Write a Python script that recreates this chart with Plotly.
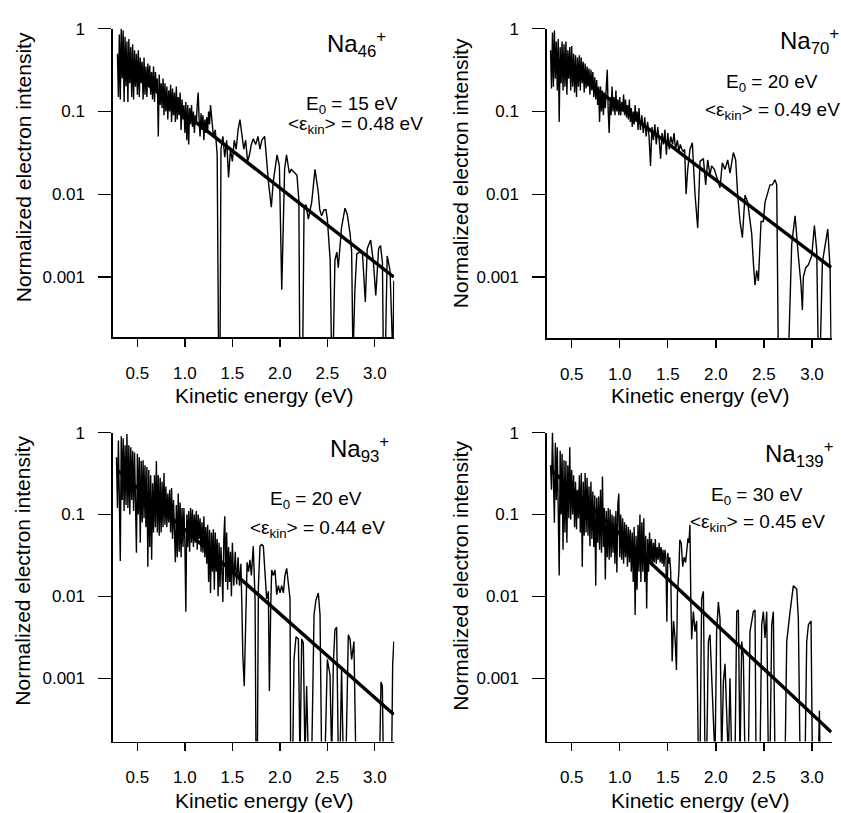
import plotly.graph_objects as go

W, H = 841, 813
FONT = "Liberation Sans, Arial, Helvetica, sans-serif"

# ---------------- data: (kinetic energy eV, normalized intensity) ----------------
na46_spectrum = [
    (0.29,0.50),(0.30,0.15),(0.31,0.85),(0.32,0.14),(0.33,1.0),(0.34,0.25),(0.35,0.95),(0.36,0.13),(0.37,0.80),(0.38,0.20),
    (0.39,0.70),(0.40,0.13),(0.41,0.75),(0.42,0.22),(0.43,0.60),(0.44,0.15),(0.45,0.65),(0.46,0.14),(0.47,0.55),(0.48,0.20),
    (0.49,0.50),(0.50,0.16),(0.51,0.55),(0.52,0.15),(0.53,0.45),(0.54,0.22),(0.55,0.40),(0.56,0.14),(0.57,0.45),(0.58,0.16),
    (0.59,0.35),(0.60,0.15),(0.61,0.38),(0.62,0.20),(0.63,0.36),(0.64,0.16),(0.65,0.30),(0.66,0.14),(0.67,0.35),(0.68,0.13),
    (0.69,0.30),(0.70,0.18),(0.71,0.25),(0.72,0.05),(0.73,0.28),(0.74,0.12),(0.75,0.22),(0.76,0.11),(0.77,0.25),(0.78,0.09),
    (0.79,0.22),(0.80,0.10),(0.81,0.20),(0.82,0.08),(0.83,0.18),(0.84,0.10),(0.85,0.21),(0.86,0.075),(0.87,0.19),(0.88,0.09),
    (0.89,0.17),(0.90,0.075),(0.91,0.20),(0.92,0.08),(0.93,0.15),(0.94,0.09),(0.95,0.17),(0.96,0.06),(0.97,0.14),(0.98,0.08),
    (0.99,0.12),(1.00,0.055),(1.01,0.13),(1.02,0.045),(1.03,0.12),(1.04,0.04),(1.05,0.11),(1.06,0.07),(1.07,0.12),(1.08,0.065),
    (1.09,0.10),(1.10,0.055),(1.11,0.09),(1.12,0.07),(1.13,0.12),(1.14,0.17),(1.15,0.08),(1.16,0.05),(1.17,0.095),(1.18,0.06),
    (1.19,0.09),(1.20,0.045),(1.21,0.08),(1.22,0.055),(1.23,0.085),(1.24,0.06),(1.25,0.10),(1.26,0.07),(1.27,0.12),(1.28,0.09),
    (1.29,0.08),(1.30,0.05),(1.32,0.06),(1.34,0.03),(1.355,0.0001),(1.37,0.0001),(1.38,0.035),(1.40,0.05),(1.42,0.028),(1.44,0.045),
    (1.46,0.016),(1.48,0.035),(1.50,0.025),(1.52,0.045),(1.54,0.035),(1.56,0.06),(1.58,0.08),(1.60,0.05),(1.62,0.035),(1.64,0.045),
    (1.66,0.025),(1.68,0.03),(1.70,0.04),(1.72,0.047),(1.745,0.04),(1.77,0.05),(1.79,0.035),(1.81,0.045),(1.84,0.05),(1.88,0.014),
    (1.91,0.007),(1.93,0.014),(1.97,0.03),(1.995,0.022),(2.02,0.0007),(2.05,0.02),(2.07,0.03),(2.10,0.018),(2.12,0.02),(2.16,0.018),
    (2.18,0.017),(2.20,0.0085),(2.21,0.0001),(2.24,0.0001),(2.255,0.007),(2.275,0.0075),(2.30,0.005),(2.335,0.008),(2.37,0.02),(2.405,0.0105),
    (2.42,0.0065),(2.44,0.0055),(2.465,0.0065),(2.486,0.0065),(2.50,0.005),(2.53,0.0016),(2.545,0.0001),(2.56,0.0001),(2.58,0.0016),(2.60,0.002),
    (2.615,0.0013),(2.65,0.004),(2.686,0.0068),(2.71,0.0057),(2.74,0.0033),(2.756,0.002),(2.77,0.0001),(2.79,0.0007),(2.81,0.0019),(2.84,0.002),
    (2.87,0.0019),(2.90,0.0005),(2.92,0.0022),(2.956,0.0028),(2.985,0.0015),(3.01,0.0006),(3.04,0.0022),(3.06,0.0024),(3.08,0.0015),(3.09,0.0001),
    (3.11,0.0001),(3.13,0.0018),(3.16,0.0012),(3.19,0.0001),(3.20,0.0009),
]
na46_fit = [(0.30,0.40),(3.20,0.0010)]

na70_spectrum = [
    (0.28,0.55),(0.29,0.19),(0.30,0.90),(0.31,0.20),(0.32,0.95),(0.33,0.25),(0.34,0.70),(0.35,0.18),(0.36,0.75),(0.37,0.075),
    (0.38,0.60),(0.39,0.22),(0.40,0.70),(0.41,0.18),(0.42,0.65),(0.43,0.20),(0.44,0.70),(0.45,0.16),(0.46,0.55),(0.47,0.25),
    (0.48,0.60),(0.49,0.18),(0.50,0.62),(0.51,0.20),(0.52,0.50),(0.53,0.17),(0.54,0.48),(0.55,0.15),(0.56,0.45),(0.57,0.20),
    (0.58,0.48),(0.59,0.18),(0.60,0.45),(0.61,0.22),(0.62,0.40),(0.63,0.17),(0.64,0.38),(0.65,0.19),(0.66,0.35),(0.67,0.20),
    (0.68,0.33),(0.69,0.16),(0.70,0.32),(0.71,0.18),(0.72,0.30),(0.73,0.15),(0.74,0.26),(0.75,0.14),(0.76,0.24),(0.77,0.12),
    (0.78,0.20),(0.79,0.075),(0.80,0.20),(0.81,0.10),(0.82,0.18),(0.83,0.09),(0.84,0.17),(0.85,0.11),(0.86,0.20),(0.87,0.32),
    (0.88,0.10),(0.89,0.055),(0.90,0.15),(0.91,0.09),(0.92,0.20),(0.93,0.10),(0.94,0.15),(0.95,0.09),(0.96,0.18),(0.97,0.10),
    (0.98,0.14),(0.99,0.09),(1.00,0.15),(1.01,0.09),(1.02,0.13),(1.03,0.10),(1.04,0.16),(1.05,0.09),(1.06,0.14),(1.07,0.085),
    (1.08,0.12),(1.09,0.08),(1.10,0.14),(1.11,0.075),(1.12,0.11),(1.13,0.065),(1.14,0.10),(1.15,0.07),(1.16,0.12),(1.17,0.075),
    (1.18,0.10),(1.19,0.06),(1.20,0.11),(1.215,0.06),(1.23,0.09),(1.245,0.055),(1.26,0.085),(1.275,0.05),(1.29,0.075),(1.305,0.05),
    (1.32,0.022),(1.335,0.065),(1.35,0.045),(1.365,0.07),(1.38,0.04),(1.395,0.065),(1.41,0.045),(1.425,0.027),(1.44,0.055),(1.455,0.04),
    (1.47,0.06),(1.485,0.03),(1.50,0.055),(1.515,0.035),(1.53,0.05),(1.55,0.04),(1.565,0.055),(1.58,0.035),(1.60,0.045),(1.615,0.033),
    (1.63,0.04),(1.645,0.035),(1.66,0.033),(1.675,0.035),(1.69,0.01),(1.707,0.02),(1.731,0.035),(1.755,0.042),(1.783,0.01),(1.811,0.0039),
    (1.835,0.025),(1.87,0.027),(1.894,0.013),(1.915,0.026),(1.939,0.017),(1.956,0.022),(1.984,0.02),(2.008,0.016),(2.043,0.012),(2.067,0.024),
    (2.095,0.02),(2.123,0.026),(2.147,0.018),(2.182,0.032),(2.206,0.026),(2.227,0.0098),(2.251,0.0047),(2.276,0.003),(2.303,0.0098),(2.331,0.008),
    (2.355,0.0047),(2.373,0.0033),(2.39,0.0015),(2.407,0.0008),(2.425,0.0012),(2.442,0.0009),(2.47,0.0047),(2.494,0.0047),(2.511,0.008),(2.539,0.0105),
    (2.563,0.013),(2.588,0.013),(2.615,0.015),(2.633,0.013),(2.65,0.0001),(2.72,0.0001),(2.754,0.0001),(2.789,0.0025),(2.824,0.0055),(2.858,0.0018),
    (2.886,0.0008),(2.90,0.0004),(2.91,0.001),(2.935,0.0013),(2.962,0.0014),(2.997,0.0018),(3.025,0.0042),(3.049,0.0021),(3.066,0.0001),(3.084,0.0001),
    (3.108,0.0015),(3.136,0.0024),(3.164,0.0038),(3.188,0.0013),(3.20,0.0001),
]
na70_fit = [(0.30,0.47),(3.20,0.0013)]

na93_spectrum = [
    (0.28,0.50),(0.29,0.12),(0.30,0.80),(0.31,0.11),(0.32,0.027),(0.33,0.90),(0.34,0.15),(0.35,0.85),(0.36,0.11),(0.37,0.70),
    (0.38,0.13),(0.39,0.96),(0.40,0.12),(0.41,0.70),(0.42,0.10),(0.43,0.66),(0.44,0.15),(0.45,0.60),(0.46,0.11),(0.47,0.57),
    (0.48,0.12),(0.49,0.034),(0.50,0.55),(0.51,0.10),(0.52,0.50),(0.53,0.045),(0.54,0.45),(0.55,0.08),(0.56,0.46),(0.57,0.09),
    (0.58,0.40),(0.59,0.07),(0.60,0.38),(0.61,0.023),(0.62,0.35),(0.63,0.04),(0.64,0.30),(0.65,0.028),(0.66,0.24),(0.67,0.06),
    (0.68,0.30),(0.69,0.07),(0.70,0.45),(0.71,0.06),(0.72,0.30),(0.73,0.055),(0.74,0.28),(0.75,0.06),(0.76,0.25),(0.77,0.07),
    (0.78,0.32),(0.79,0.075),(0.80,0.22),(0.81,0.07),(0.82,0.18),(0.83,0.08),(0.84,0.20),(0.85,0.06),(0.86,0.21),(0.87,0.05),
    (0.88,0.15),(0.89,0.04),(0.90,0.026),(0.91,0.13),(0.92,0.03),(0.93,0.18),(0.94,0.035),(0.95,0.14),(0.96,0.03),(0.97,0.12),
    (0.98,0.04),(0.99,0.12),(1.00,0.045),(1.01,0.0065),(1.02,0.10),(1.03,0.04),(1.04,0.11),(1.05,0.035),(1.06,0.12),(1.07,0.045),
    (1.08,0.115),(1.09,0.04),(1.10,0.10),(1.11,0.045),(1.12,0.11),(1.13,0.037),(1.14,0.10),(1.15,0.05),(1.16,0.09),(1.17,0.035),
    (1.18,0.08),(1.19,0.034),(1.20,0.095),(1.21,0.03),(1.22,0.07),(1.23,0.025),(1.24,0.075),(1.25,0.015),(1.26,0.065),(1.27,0.011),
    (1.28,0.06),(1.29,0.02),(1.30,0.066),(1.31,0.012),(1.32,0.06),(1.33,0.02),(1.34,0.05),(1.35,0.01),(1.36,0.045),(1.37,0.013),
    (1.38,0.04),(1.39,0.02),(1.40,0.0085),(1.41,0.05),(1.42,0.095),(1.43,0.015),(1.44,0.06),(1.45,0.012),(1.46,0.04),(1.47,0.015),
    (1.48,0.035),(1.49,0.01),(1.50,0.045),(1.515,0.0135),(1.53,0.035),(1.545,0.014),(1.56,0.03),(1.575,0.0135),(1.59,0.025),(1.60,0.0078),
    (1.61,0.0019),(1.625,0.0008),(1.64,0.0078),(1.655,0.026),(1.67,0.02),(1.685,0.028),(1.70,0.018),(1.72,0.041),(1.739,0.009),(1.749,0.0001),
    (1.763,0.0001),(1.774,0.013),(1.791,0.041),(1.809,0.043),(1.826,0.041),(1.844,0.02),(1.861,0.0093),(1.879,0.0115),(1.89,0.0007),(1.904,0.0075),
    (1.914,0.021),(1.932,0.018),(1.949,0.021),(1.967,0.0105),(1.984,0.0135),(2.002,0.011),(2.019,0.0135),(2.037,0.011),(2.054,0.018),(2.072,0.022),
    (2.09,0.015),(2.107,0.0093),(2.114,0.0001),(2.135,0.0001),(2.149,0.0017),(2.17,0.0032),(2.195,0.003),(2.212,0.0001),(2.23,0.003),(2.247,0.0027),
    (2.265,0.0001),(2.282,0.0008),(2.30,0.0001),(2.335,0.0001),(2.36,0.006),(2.38,0.009),(2.405,0.011),(2.423,0.006),(2.44,0.0001),(2.475,0.0001),
    (2.50,0.0017),(2.528,0.0011),(2.546,0.0001),(2.563,0.0015),(2.58,0.0039),(2.598,0.0042),(2.616,0.0001),(2.633,0.0001),(2.65,0.0013),(2.668,0.0001),
    (2.696,0.0001),(2.721,0.0034),(2.739,0.003),(2.756,0.0017),(2.78,0.0028),(2.80,0.0001),(3.05,0.0001),(3.065,0.0009),(3.079,0.0008),(3.09,0.0001),
    (3.177,0.0001),(3.188,0.0015),(3.20,0.0028),
]
na93_fit = [(0.30,0.34),(3.20,0.00036)]

na139_spectrum = [
    (0.28,0.40),(0.29,0.20),(0.30,1.0),(0.31,0.30),(0.32,0.079),(0.33,0.75),(0.34,0.15),(0.35,0.66),(0.36,0.11),(0.37,0.018),
    (0.38,0.60),(0.39,0.10),(0.40,0.55),(0.41,0.037),(0.42,0.46),(0.43,0.06),(0.44,0.45),(0.45,0.045),(0.46,0.40),(0.47,0.09),
    (0.48,0.66),(0.49,0.087),(0.50,0.35),(0.51,0.10),(0.52,0.30),(0.53,0.07),(0.54,0.25),(0.55,0.066),(0.56,0.20),(0.57,0.09),
    (0.58,0.30),(0.59,0.06),(0.60,0.32),(0.61,0.023),(0.62,0.25),(0.63,0.055),(0.64,0.32),(0.65,0.06),(0.66,0.28),(0.67,0.055),
    (0.68,0.22),(0.69,0.041),(0.70,0.25),(0.71,0.05),(0.72,0.19),(0.73,0.04),(0.74,0.17),(0.75,0.0135),(0.76,0.16),(0.77,0.045),
    (0.78,0.165),(0.79,0.037),(0.80,0.20),(0.81,0.034),(0.82,0.29),(0.83,0.04),(0.84,0.12),(0.85,0.016),(0.86,0.11),(0.87,0.03),
    (0.88,0.12),(0.89,0.028),(0.90,0.115),(0.91,0.03),(0.92,0.10),(0.93,0.034),(0.94,0.095),(0.95,0.025),(0.96,0.11),(0.97,0.0195),
    (0.98,0.13),(0.99,0.18),(1.00,0.03),(1.01,0.10),(1.02,0.028),(1.03,0.09),(1.04,0.025),(1.05,0.08),(1.06,0.03),(1.07,0.075),
    (1.08,0.023),(1.09,0.07),(1.10,0.026),(1.11,0.065),(1.12,0.02),(1.13,0.06),(1.14,0.015),(1.15,0.07),(1.16,0.0059),(1.17,0.055),
    (1.18,0.012),(1.19,0.075),(1.20,0.02),(1.21,0.10),(1.22,0.015),(1.23,0.08),(1.24,0.02),(1.25,0.09),(1.26,0.015),(1.27,0.055),
    (1.28,0.0071),(1.29,0.05),(1.30,0.02),(1.31,0.06),(1.32,0.025),(1.33,0.05),(1.34,0.023),(1.35,0.045),(1.36,0.026),(1.37,0.05),
    (1.38,0.025),(1.39,0.04),(1.40,0.028),(1.41,0.045),(1.42,0.026),(1.43,0.04),(1.44,0.025),(1.45,0.037),(1.46,0.023),(1.47,0.037),
    (1.48,0.03),(1.49,0.0049),(1.50,0.034),(1.51,0.025),(1.52,0.03),(1.53,0.02),(1.545,0.0016),(1.56,0.005),(1.575,0.0031),(1.59,0.00126),
    (1.60,0.011),(1.615,0.02),(1.625,0.049),(1.64,0.045),(1.655,0.023),(1.67,0.03),(1.685,0.026),(1.70,0.045),(1.71,0.051),(1.72,0.045),
    (1.73,0.075),(1.74,0.008),(1.748,0.003),(1.766,0.0065),(1.783,0.0037),(1.80,0.005),(1.818,0.0001),(1.835,0.0001),(1.852,0.0093),(1.87,0.0115),
    (1.887,0.0001),(1.904,0.0001),(1.922,0.0028),(1.939,0.0034),(1.956,0.0012),(1.974,0.00036),(1.991,0.0001),(2.008,0.0037),(2.026,0.0085),(2.043,0.0053),
    (2.06,0.0001),(2.078,0.0009),(2.095,0.0015),(2.113,0.00036),(2.13,0.0001),(2.147,0.001),(2.165,0.0001),(2.199,0.0001),(2.217,0.0065),(2.234,0.0068),
    (2.251,0.0001),(2.269,0.0028),(2.286,0.0018),(2.303,0.0001),(2.338,0.0001),(2.355,0.0037),(2.373,0.0049),(2.39,0.0065),(2.407,0.0068),(2.418,0.0001),
    (2.459,0.0001),(2.477,0.0045),(2.494,0.0065),(2.511,0.0031),(2.529,0.0065),(2.546,0.0001),(2.563,0.0001),(2.581,0.0045),(2.598,0.0065),(2.615,0.0001),
    (2.72,0.0001),(2.737,0.0028),(2.772,0.0065),(2.806,0.0135),(2.841,0.0123),(2.858,0.0053),(2.876,0.0001),(2.928,0.0001),(2.945,0.0028),(2.963,0.0045),
    (2.99,0.005),(3.004,0.0001),(3.066,0.0001),(3.077,0.0004),(3.084,0.0001),(3.20,0.0001),
]
na139_fit = [(0.30,0.34),(3.20,0.00022)]

cluster_labels = ["Na<sub>46</sub><sup>+</sup>", "Na<sub>70</sub><sup>+</sup>",
                  "Na<sub>93</sub><sup>+</sup>", "Na<sub>139</sub><sup>+</sup>"]
e0_labels = ["E<sub>0</sub> = 15 eV", "E<sub>0</sub> = 20 eV", "E<sub>0</sub> = 20 eV", "E<sub>0</sub> = 30 eV"]
ekin_labels = ["&lt;ε<sub>kin</sub>&gt; = 0.48 eV", "&lt;ε<sub>kin</sub>&gt; = 0.49 eV",
               "&lt;ε<sub>kin</sub>&gt; = 0.44 eV", "&lt;ε<sub>kin</sub>&gt; = 0.45 eV"]
x_tick_values = [0.5, 1.0, 1.5, 2.0, 2.5, 3.0]
x_tick_labels = ["0.5", "1.0", "1.5", "2.0", "2.5", "3.0"]
y_tick_values = [1, 0.1, 0.01, 0.001]
y_tick_labels = ["1", "0.1", "0.01", "0.001"]
x_title = "Kinetic energy (eV)"
y_title = "Normalized electron intensity"

spectra = [na46_spectrum, na70_spectrum, na93_spectrum, na139_spectrum]
fits = [na46_fit, na70_fit, na93_fit, na139_fit]

# ---------------- layout geometry (pixels) ----------------
boxes = [(112.7, 394.3, 20, 332), (546.7, 831.7, 20, 333),
         (112.7, 394.3, 428.3, 740.7), (546.7, 831.7, 428.3, 740.7)]
y_bottoms = [-3.729, -3.74, -3.773, -3.773]
x_range = [0.24, 3.205]

def px(x):
    return x / W

def py(y):
    return 1 - y / H

fig = go.Figure()
layout = dict(width=W, height=H, margin=dict(l=0, r=0, t=0, b=0),
              paper_bgcolor="white", plot_bgcolor="white", showlegend=False,
              font=dict(family=FONT, color="black"))
annotations = []

for i in range(4):
    sx = "" if i == 0 else str(i + 1)
    xa, ya = "x" + sx, "y" + sx
    energies = [p[0] for p in spectra[i]]
    intens = [p[1] for p in spectra[i]]
    fig.add_trace(go.Scatter(x=energies, y=intens, mode="lines", xaxis=xa, yaxis=ya,
                             line=dict(color="black", width=1.4)))
    fig.add_trace(go.Scatter(x=[p[0] for p in fits[i]], y=[p[1] for p in fits[i]], mode="lines",
                             xaxis=xa, yaxis=ya, line=dict(color="black", width=3.4)))
    l, r, t, b = boxes[i]
    layout["xaxis" + sx] = dict(domain=[px(l), px(r)], range=x_range, anchor=ya,
                                tickvals=x_tick_values, ticktext=x_tick_labels,
                                ticks="outside", ticklen=8, tickwidth=1.3, tickcolor="black",
                                showline=True, linecolor="black", linewidth=1.3,
                                showgrid=False, zeroline=False, ticklabelstandoff=12,
                                tickfont=dict(size=17, family=FONT, color="black"))
    layout["yaxis" + sx] = dict(domain=[py(b), py(t)], type="log", range=[y_bottoms[i], 0],
                                anchor=xa, tickvals=y_tick_values, ticktext=y_tick_labels,
                                ticks="outside", ticklen=13, tickwidth=1.3, tickcolor="black",
                                showline=True, linecolor="black", linewidth=1.3,
                                showgrid=False, zeroline=False, ticklabelstandoff=10,
                                tickfont=dict(size=17, family=FONT, color="black"))

label_pos = [(325, 35), (778, 32), (328, 445), (763, 450)]
e0_pos = [(352, 97), (772, 75), (316, 497), (757, 492)]
ekin_pos = [(286, 117), (703, 103), (248, 526), (688, 520)]
xt_pos = [(264, 391), (700, 391), (264, 800), (700, 800)]
yt_pos = [(23, 160), (460, 166), (23, 568), (461, 573)]

for i in range(4):
    annotations.append(dict(text=cluster_labels[i], x=px(label_pos[i][0]), y=py(label_pos[i][1]),
                            xref="paper", yref="paper", xanchor="left", yanchor="middle",
                            showarrow=False, font=dict(size=24, family=FONT, color="black")))
    annotations.append(dict(text=e0_labels[i], x=px(e0_pos[i][0]), y=py(e0_pos[i][1]),
                            xref="paper", yref="paper", xanchor="center", yanchor="middle",
                            showarrow=False, font=dict(size=19, family=FONT, color="black")))
    annotations.append(dict(text=ekin_labels[i], x=px(ekin_pos[i][0]), y=py(ekin_pos[i][1]),
                            xref="paper", yref="paper", xanchor="left", yanchor="middle",
                            showarrow=False, font=dict(size=19, family=FONT, color="black")))
    annotations.append(dict(text=x_title, x=px(xt_pos[i][0]), y=py(xt_pos[i][1]),
                            xref="paper", yref="paper", xanchor="center", yanchor="middle",
                            showarrow=False, font=dict(size=21, family=FONT, color="black")))
    annotations.append(dict(text=y_title, x=px(yt_pos[i][0]), y=py(yt_pos[i][1]),
                            xref="paper", yref="paper", xanchor="center", yanchor="middle",
                            textangle=-90, showarrow=False,
                            font=dict(size=21, family=FONT, color="black")))

layout["annotations"] = annotations
fig.update_layout(**layout)
fig.write_html("out.html", config={"displayModeBar": False, "staticPlot": True},
               post_script="document.body.style.margin='0';document.body.style.padding='0';"
                           "document.body.style.overflow='hidden';")
